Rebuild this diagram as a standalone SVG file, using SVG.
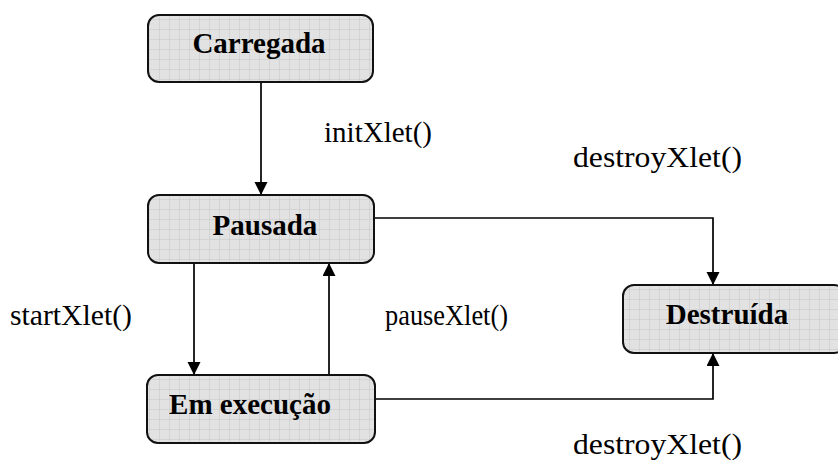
<svg xmlns="http://www.w3.org/2000/svg" width="838" height="462" viewBox="0 0 838 462">
  <style>
    .node rect { fill: url(#grid); stroke: #111; stroke-width: 2; }
    .node text { font-family: "Liberation Serif", "Times New Roman", serif; font-weight: bold; font-size: 29px; fill: #000; text-anchor: middle; }
    .edge { fill: none; stroke: #000; stroke-width: 1.7; }
    .label { font-family: "Liberation Serif", "Times New Roman", serif; font-size: 28.5px; fill: #000; }
  </style>
  <defs>
    <pattern id="grid" width="10" height="10" patternUnits="userSpaceOnUse">
      <rect width="10" height="10" fill="#e2e2e2"/>
      <path d="M10 0 V10 M0 10 H10" stroke="#c6c6c6" stroke-width="1"/>
    </pattern>
    <marker id="arrow" markerWidth="14" markerHeight="14" refX="13" refY="6.5" orient="auto" markerUnits="userSpaceOnUse">
      <path d="M0 0 L13 6.5 L0 13 Z" fill="#000"/>
    </marker>
  </defs>

  <rect width="838" height="462" fill="#fff"/>

  <g id="connectors">
    <path class="edge" d="M261 82 V195" marker-end="url(#arrow)"/>
    <path class="edge" d="M374 218 H713 V285" marker-end="url(#arrow)"/>
    <path class="edge" d="M194 263 V375" marker-end="url(#arrow)"/>
    <path class="edge" d="M329 375 V263" marker-end="url(#arrow)"/>
    <path class="edge" d="M375 399 H713 V353" marker-end="url(#arrow)"/>
  </g>

  <g id="node-carregada" class="node">
    <rect x="148" y="15" width="225" height="67" rx="11"/>
    <text x="259" y="53">Carregada</text>
  </g>
  <g id="node-pausada" class="node">
    <rect x="148" y="195" width="226" height="68" rx="11"/>
    <text x="265" y="235">Pausada</text>
  </g>
  <g id="node-destruida" class="node">
    <rect x="623" y="285" width="222" height="68" rx="11"/>
    <text x="727" y="324">Destruída</text>
  </g>
  <g id="node-em-execucao" class="node">
    <rect x="147" y="375" width="228" height="68" rx="11"/>
    <text x="250" y="414">Em execução</text>
  </g>

  <g id="labels">
    <text class="label" x="324" y="142" textLength="108" lengthAdjust="spacingAndGlyphs">initXlet()</text>
    <text class="label" x="573" y="167" textLength="169" lengthAdjust="spacingAndGlyphs">destroyXlet()</text>
    <text class="label" x="10" y="325" textLength="122" lengthAdjust="spacingAndGlyphs">startXlet()</text>
    <text class="label" x="385" y="325" textLength="123" lengthAdjust="spacingAndGlyphs">pauseXlet()</text>
    <text class="label" x="573" y="454" textLength="169" lengthAdjust="spacingAndGlyphs">destroyXlet()</text>
  </g>
</svg>
